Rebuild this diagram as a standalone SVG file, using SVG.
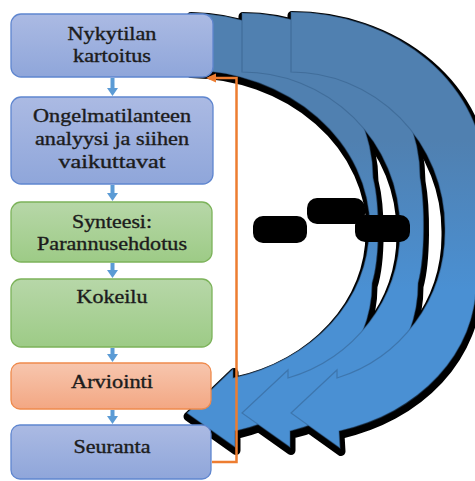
<svg xmlns="http://www.w3.org/2000/svg" xmlns:xlink="http://www.w3.org/1999/xlink" width="475" height="481" viewBox="0 0 475 481">
  <style>
    .shadow { fill: #000; stroke: #000; stroke-width: 9; stroke-linejoin: round; }
    .band { fill: url(#bandFill); stroke: #2f5680; stroke-opacity: 0.45; stroke-width: 1.2; }
    .blob { fill: #000; }
    .box-blue { fill: url(#blueFill); stroke: #5f86cf; stroke-width: 1.3; }
    .box-green { fill: url(#greenFill); stroke: #7cb35a; stroke-width: 1.3; }
    .box-orange { fill: url(#orangeFill); stroke: #ef8a4c; stroke-width: 1.3; }
    .label { font-family: "Liberation Serif", "Times New Roman", serif; font-size: 18px; fill: #1c1c1c; stroke: #1c1c1c; stroke-width: 0.35; text-anchor: middle; }
    .flow { fill: #5b9bd5; }
    .loop { fill: none; stroke: #ed7d31; stroke-width: 2.5; }
  </style>
  <defs>
    <linearGradient id="bandFill" gradientUnits="userSpaceOnUse" x1="0" y1="140" x2="0" y2="290">
      <stop offset="0" stop-color="#5080b0"/>
      <stop offset="1" stop-color="#4a90d3"/>
    </linearGradient>
    <linearGradient id="blueFill" x1="0" y1="0" x2="0" y2="1">
      <stop offset="0" stop-color="#abbae3"/>
      <stop offset="1" stop-color="#8fa6da"/>
    </linearGradient>
    <linearGradient id="greenFill" x1="0" y1="0" x2="0" y2="1">
      <stop offset="0" stop-color="#b7d7a8"/>
      <stop offset="1" stop-color="#9dcb86"/>
    </linearGradient>
    <linearGradient id="orangeFill" x1="0" y1="0" x2="0" y2="1">
      <stop offset="0" stop-color="#f7c6ae"/>
      <stop offset="1" stop-color="#f3a783"/>
    </linearGradient>
    <marker id="loopHead" markerUnits="userSpaceOnUse" markerWidth="10" markerHeight="10" refX="7" refY="4.5" orient="auto">
      <path d="M0,0 L10,4.5 L0,9 Z" fill="#ed7d31"/>
    </marker>
    <!-- curved cycle arrows: twisted band, tail at top, head at bottom-left -->
    <path id="cycle1" d="M190,13 A186,166 0 0 1 373,178 C380,205 380,258 372,283 A185,153 0 0 1 235,431 L235,447 L187,413 L233,369 L233,378 A182,153 0 0 0 369,230 L370,228 A183,158 0 0 0 190,70 Z"/>
    <path id="cycle2" d="M242,13 A178,165 0 0 1 420,178 C425,205 425,258 418,283 A176,153 0 0 1 290,431 L290,447 L242,413 L288,370 L288,378 A158,153 0 0 0 400,232 L400,228 A158,156 0 0 0 242,72 Z"/>
    <path id="cycle3" d="M291,12 A194,166 0 0 1 485,178 C490,210 486,258 476,283 A185,153 0 0 1 339,431 L340,448 L291,413 L337,370 L337,378 A154,153 0 0 0 445,232 L445,228 A154,156 0 0 0 291,72 Z"/>
  </defs>

  <rect width="475" height="481" fill="#fff"/>

  <g id="cycle-arrows">
    <g transform="translate(1,3.5)">
      <use xlink:href="#cycle1" class="shadow"/>
      <use xlink:href="#cycle2" class="shadow"/>
      <use xlink:href="#cycle3" class="shadow"/>
    </g>
    <use xlink:href="#cycle1" class="band"/>
    <use xlink:href="#cycle2" class="band"/>
    <use xlink:href="#cycle3" class="band"/>
    <rect class="blob" x="253" y="216" width="54" height="27" rx="10"/>
    <rect class="blob" x="307" y="198" width="58" height="26" rx="10"/>
    <rect class="blob" x="355" y="215" width="55" height="27" rx="10"/>
  </g>

  <g id="node-nykytila">
    <rect class="box-blue" x="11" y="14" width="202" height="63" rx="10"/>
    <text class="label" x="112" y="40" textLength="89" lengthAdjust="spacingAndGlyphs">Nykytilan</text>
    <text class="label" x="112" y="62" textLength="78" lengthAdjust="spacingAndGlyphs">kartoitus</text>
  </g>

  <g id="node-analyysi">
    <rect class="box-blue" x="11" y="97" width="202" height="87" rx="10"/>
    <text class="label" x="112" y="122" textLength="158" lengthAdjust="spacingAndGlyphs">Ongelmatilanteen</text>
    <text class="label" x="112" y="145" textLength="154" lengthAdjust="spacingAndGlyphs">analyysi ja siihen</text>
    <text class="label" x="112" y="168" textLength="107" lengthAdjust="spacingAndGlyphs">vaikuttavat</text>
  </g>

  <g id="node-synteesi">
    <rect class="box-green" x="11" y="202" width="201" height="60" rx="10"/>
    <text class="label" x="112" y="228" textLength="80" lengthAdjust="spacingAndGlyphs">Synteesi:</text>
    <text class="label" x="112" y="250" textLength="150" lengthAdjust="spacingAndGlyphs">Parannusehdotus</text>
  </g>

  <g id="node-kokeilu">
    <rect class="box-green" x="11" y="279" width="201" height="68" rx="10"/>
    <text class="label" x="112" y="303" textLength="71" lengthAdjust="spacingAndGlyphs">Kokeilu</text>
  </g>

  <g id="node-arviointi">
    <rect class="box-orange" x="11" y="363" width="200" height="46" rx="9"/>
    <text class="label" x="112" y="388" textLength="82" lengthAdjust="spacingAndGlyphs">Arviointi</text>
  </g>

  <g id="node-seuranta">
    <rect class="box-blue" x="11" y="425" width="200" height="54" rx="9"/>
    <text class="label" x="112" y="453" textLength="77" lengthAdjust="spacingAndGlyphs">Seuranta</text>
  </g>

  <g id="connectors">
    <path class="flow" d="M110.5,78 H114.5 V88 H118 L112.5,96 L107,88 H110.5 Z"/>
    <path class="flow" d="M110.5,185 H114.5 V193 H118 L112.5,201 L107,193 H110.5 Z"/>
    <path class="flow" d="M110.5,263 H114.5 V270 H118 L112.5,278 L107,270 H110.5 Z"/>
    <path class="flow" d="M110.5,348 H114.5 V354 H118 L112.5,362 L107,354 H110.5 Z"/>
    <path class="flow" d="M110.5,410 H114.5 V416 H118 L112.5,424 L107,416 H110.5 Z"/>
    <path class="loop" d="M212,462 H236.5 V78 H209" marker-end="url(#loopHead)"/>
  </g>
</svg>
